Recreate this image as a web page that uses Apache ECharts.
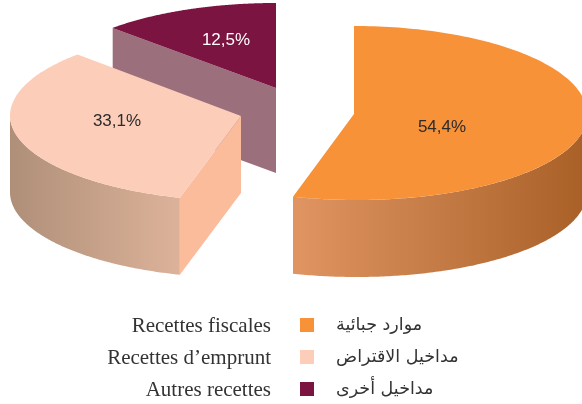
<!DOCTYPE html>
<html>
<head>
<meta charset="utf-8">
<style>html,body{margin:0;padding:0;background:#fff}#c{width:582px;height:404px}</style>
<script src="https://cdn.jsdelivr.net/npm/echarts@6/dist/echarts.min.js"></script>
</head>
<body>
<div id="c"></div>
<script>
const latinNames = ['Recettes fiscales', 'Recettes d\u2019emprunt', 'Autres recettes'];
const arabicNames = ['موارد جبائية', 'مداخيل الاقتراض', 'مداخيل أخرى'];
const shares = [54.4, 33.1, 12.5];
const shareLabels = ['54,4%', '33,1%', '12,5%'];
const topColors = ['#F79239', '#FCCDB9', '#7B1441'];

const looks = [
  {cx: 354, cy: 114, rx: 233, ryT: 88, ryB: 86, skew: 2.7, depth: 77, gradFrom: 293, gradTo: 582, stops: ['#E09562', '#AA6128'], face: null, label: [442, 127], labelColor: '#2b2b2b'},
  {cx: 241, cy: 116, rx: 231, ryT: 87, ryB: 85, skew: 2, depth: 77, gradFrom: 10, gradTo: 180, stops: ['#AF8F78', '#DDB29A'], face: '#FBBC9C', label: [117, 121], labelColor: '#2b2b2b'},
  {cx: 276, cy: 88, rx: 231, ryT: 85, ryB: 85, skew: 0, depth: 85, gradFrom: 0, gradTo: 0, stops: null, face: '#9B6F7B', label: [226, 40], labelColor: '#ffffff'}
];

const total = shares.reduce((a, b) => a + b, 0);
function startAngle(i) {
  let s = 0;
  for (let k = 0; k < i; k++) s += shares[k];
  return s / total * Math.PI * 2;
}
function rim(l, a, drop) {
  const c = Math.cos(a);
  const x = l.cx + l.rx * Math.sin(a) + (c < 0 ? -c * l.skew : 0);
  const y = l.cy - (c > 0 ? l.ryT : l.ryB) * c + (drop || 0);
  return [x, y];
}
function arc(l, a0, a1, drop) {
  const pts = [], n = 160;
  for (let j = 0; j <= n; j++) pts.push(rim(l, a0 + (a1 - a0) * j / n, drop));
  return pts;
}
function renderSlice(i) {
  return function (params, api) {
    const l = looks[i];
    const a0 = startAngle(i);
    const a1 = a0 + api.value(0) / total * Math.PI * 2;
    const children = [];
    // curved wall: only the part of the rim that faces the viewer
    const w0 = Math.max(a0, Math.PI / 2), w1 = Math.min(a1, Math.PI * 1.5);
    if (l.stops && w1 > w0) {
      children.push({
        type: 'polygon',
        shape: {points: arc(l, w0, w1, 0).concat(arc(l, w1, w0, l.depth))},
        style: {fill: {type: 'linear', x: l.gradFrom, y: 0, x2: l.gradTo, y2: 0, global: true,
          colorStops: [{offset: 0, color: l.stops[0]}, {offset: 1, color: l.stops[1]}]}}
      });
    }
    // flat cut face
    if (l.face) {
      const p = rim(l, a0, 0), q = rim(l, a0, l.depth);
      children.push({
        type: 'polygon',
        shape: {points: [[l.cx, l.cy], p, q, [l.cx, l.cy + l.depth]]},
        style: {fill: l.face}
      });
    }
    // top surface
    children.push({
      type: 'polygon',
      shape: {points: [[l.cx, l.cy]].concat(arc(l, a0, a1, 0))},
      style: {fill: topColors[i]}
    });
    children.push({
      type: 'text',
      style: {x: l.label[0], y: l.label[1], text: shareLabels[i], fill: l.labelColor,
        font: '17px "Liberation Sans", Arial, sans-serif', textAlign: 'center', textVerticalAlign: 'middle'}
    });
    return {type: 'group', children};
  };
}

const order = [2, 1, 0]; // back to front
const chart = echarts.init(document.getElementById('c'), null, {renderer: 'canvas'});
chart.setOption({
  backgroundColor: '#ffffff',
  animation: false,
  legend: {
    data: arabicNames.map(n => ({name: n, icon: 'rect'})),
    orient: 'vertical',
    left: 300, top: 316,
    itemWidth: 14, itemHeight: 14, itemGap: 14,
    padding: 0,
    align: 'left',
    selectedMode: false,
    textStyle: {color: '#333', fontSize: 17.5, fontFamily: '"DejaVu Sans", sans-serif', padding: [0, 0, 0, 17], lineHeight: 18}
  },
  graphic: latinNames.map((t, i) => ({
    type: 'text', right: 311, top: 316 + i * 32,
    style: {text: t, fill: '#333', font: '21px "Liberation Serif", "Times New Roman", serif'}
  })),
  series: order.map(i => ({
    type: 'custom',
    name: arabicNames[i],
    coordinateSystem: 'none',
    silent: true,
    itemStyle: {color: topColors[i]},
    data: [[shares[i]]],
    renderItem: renderSlice(i)
  }))
});
</script>
</body>
</html>
